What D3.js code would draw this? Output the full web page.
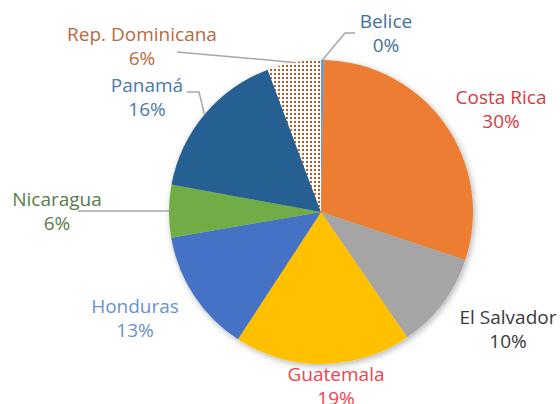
<!DOCTYPE html>
<html>
<head>
<meta charset="utf-8">
<script src="https://cdn.jsdelivr.net/npm/d3@7"></script>
<style>
  html, body { margin: 0; padding: 0; background: #fff; }
  svg { display: block; }
  text { font-family: "Open Sans", "Noto Sans", sans-serif; font-size: 19px; }
</style>
</head>
<body>
<div id="chart"></div>
<script>
// Data (share in %)
const countries = ["Belice", "Costa Rica", "El Salvador", "Guatemala", "Honduras", "Nicaragua", "Panamá", "Rep. Dominicana"];
const shares = [0.3, 29.8, 10.3, 18.8, 13.1, 5.6, 16.4, 5.7];
const sliceColors = ["#5B9BD5", "#ED7D31", "#A5A5A5", "#FFC000", "#4472C4", "#70AD47", "#255E91", "url(#dots)"];
const labelColors = ["#41719C", "#D63A3F", "#3A3A3A", "#F5414F", "#6A91D4", "#587D46", "#4A7AB0", "#B86A3D"];

// Label placement (text centre x, first baseline y) and leader line points
const labelPos = [[386, 28], [501, 104], [508, 324], [336, 381], [135, 313], [57, 206], [147, 92], [142, 41]];
const leaders = {
    "Belice": [[345, 33], [355, 33]],
    "Rep. Dominicana": [[177, 52]],
    "Panamá": [[199, 92], [187, 92]],
    "Nicaragua": [[78, 211]]
};

const width = 560;
const height = 404;
const cx = 321, cy = 212, radius = 152;

const svg = d3.select("#chart")
    .append("svg")
    .attr("width", width)
    .attr("height", height);

const defs = svg.append("defs");

// Dotted pattern for Rep. Dominicana
const pattern = defs.append("pattern")
    .attr("id", "dots")
    .attr("patternUnits", "userSpaceOnUse")
    .attr("width", 4)
    .attr("height", 4);
pattern.append("rect").attr("width", 4).attr("height", 4).attr("fill", "#fff");
pattern.append("rect").attr("x", 1).attr("y", 1).attr("width", 2).attr("height", 2).attr("fill", "#C0561A");

// Soft shadow around the pie
const shadow = defs.append("filter")
    .attr("id", "shadow")
    .attr("x", "-10%").attr("y", "-10%")
    .attr("width", "120%").attr("height", "120%");
shadow.append("feDropShadow")
    .attr("dx", 1.5).attr("dy", 2)
    .attr("stdDeviation", 3)
    .attr("flood-color", "#000")
    .attr("flood-opacity", 0.3);

const slices = countries.map((name, i) => ({ name, value: shares[i], i }));

const pie = d3.pie().sort(null).value(d => d.value);
const arcs = pie(slices);

const arc = d3.arc().innerRadius(0).outerRadius(radius);
const edgeArc = d3.arc().innerRadius(radius).outerRadius(radius);

const g = svg.append("g").attr("transform", `translate(${cx},${cy})`);

g.append("g")
    .attr("filter", "url(#shadow)")
    .selectAll("path")
    .data(arcs)
    .enter()
    .append("path")
    .attr("d", arc)
    .attr("fill", d => sliceColors[d.data.i]);

// Leader lines from the pie edge to the label
const line = d3.line();
arcs.forEach(d => {
    const pts = leaders[d.data.name];
    if (!pts) return;
    const start = edgeArc.centroid(d);
    const path = [[start[0] + cx, start[1] + cy]].concat(pts);
    svg.append("path")
        .attr("d", line(path))
        .attr("fill", "none")
        .attr("stroke", "#A6A6A6")
        .attr("stroke-width", 1.5);
});

// Labels
const fmt = d3.format(".0%");
const labels = svg.append("g")
    .selectAll("text")
    .data(arcs)
    .enter()
    .append("text")
    .attr("text-anchor", "middle")
    .attr("fill", d => labelColors[d.data.i])
    .attr("x", d => labelPos[d.data.i][0])
    .attr("y", d => labelPos[d.data.i][1]);

labels.append("tspan")
    .attr("x", d => labelPos[d.data.i][0])
    .text(d => d.data.name);
labels.append("tspan")
    .attr("x", d => labelPos[d.data.i][0])
    .attr("dy", 23.5)
    .text(d => fmt(d.data.value / 100));
</script>
</body>
</html>
